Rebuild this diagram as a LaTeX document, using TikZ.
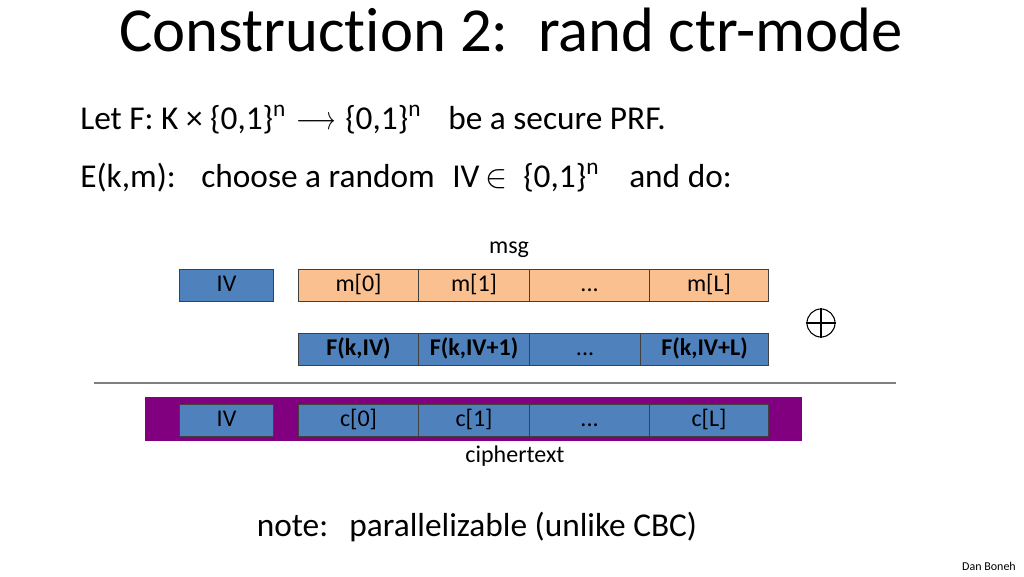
\documentclass[tikz,border=0pt]{standalone}
\usepackage{fontspec}
\setmainfont[Ligatures=NoCommon]{Carlito}
\definecolor{boxblue}{HTML}{4F81BD}
\definecolor{boxorange}{HTML}{FAC090}
\definecolor{ctpurple}{HTML}{800080}
\definecolor{rulegray}{HTML}{7F7F7F}
\begin{document}
\begin{tikzpicture}[x=0.75pt,y=-0.75pt,
  cell/.style={draw=black!75,line width=0.8pt,inner sep=0pt,anchor=north west,font=\fontsize{18}{20}\selectfont,text height=13pt,text depth=4pt},
  bluecell/.style={cell,fill=boxblue},
  orangecell/.style={cell,fill=boxorange},
  boldcell/.style={bluecell,font=\fontsize{18}{20}\selectfont\bfseries},
  bodytext/.style={anchor=base west,inner sep=0pt,font=\fontsize{25}{28}\selectfont},
  label/.style={inner sep=0pt,font=\fontsize{18}{20}\selectfont}]
\useasboundingbox (0,0) rectangle (1024,576);
% title
\node[inner sep=0pt,font=\fontsize{47}{52}\selectfont] (title) at (511,30) {Construction 2:\, rand ctr-mode};
% line 1
\node[bodytext] (l1a) at (80,129) {Let F: K × \{0,1\}\textsuperscript{n}};
\node[bodytext,anchor=base] (l1arrow) at (316,129) {\scalebox{0.74}[1]{$\longrightarrow$}};
\node[bodytext] (l1b) at (345,129) {\{0,1\}\textsuperscript{n}};
\node[bodytext] (l1c) at (448,129) {be a secure PRF.};
% line 2
\node[bodytext] (l2a) at (80,187) {E(k,m):};
\node[bodytext] (l2b) at (201,187) {choose a random};
\node[bodytext] (l2c) at (452,187) {IV};
\node[bodytext,anchor=base] (l2in) at (497,187) {$\in$};
\node[bodytext] (l2d) at (523,187) {\{0,1\}\textsuperscript{n}};
\node[bodytext] (l2e) at (629,187) {and do:};
% msg row
\node[label] (msg) at (509,250) {msg};
\node[bluecell,minimum width=94pt*0.75,minimum height=32pt*0.75] (iv1) at (179,269) {IV};
\node[orangecell,minimum width=120pt*0.75,minimum height=32pt*0.75] (m0) at (298,269) {m[0]};
\node[orangecell,minimum width=111pt*0.75,minimum height=32pt*0.75] (m1) at (418,269) {m[1]};
\node[orangecell,minimum width=120pt*0.75,minimum height=32pt*0.75] (mdots) at (529,269) {...};
\node[orangecell,minimum width=119pt*0.75,minimum height=32pt*0.75] (mL) at (649,269) {m[L]};
% xor
\node[draw,circle,line width=0.8pt,minimum size=28pt*0.75,inner sep=0pt] (xor) at (821,323) {};
\draw[line width=0.8pt] (xor.north) -- (xor.south) (xor.west) -- (xor.east);
% pad row
\node[boldcell,minimum width=120pt*0.75,minimum height=32pt*0.75] (f0) at (298,333) {F(k,IV)};
\node[boldcell,minimum width=111pt*0.75,minimum height=32pt*0.75] (f1) at (418,333) {F(k,IV+1)};
\node[bluecell,minimum width=111pt*0.75,minimum height=32pt*0.75] (fdots) at (529,333) {...};
\node[boldcell,minimum width=128pt*0.75,minimum height=32pt*0.75] (fL) at (640,333) {F(k,IV+L)};
% rule
\coordinate (ruleL) at (94,383);
\coordinate (ruleR) at (896,383);
\draw[rulegray,line width=1.2pt] (ruleL) -- (ruleR);
% ciphertext row
\node[fill=ctpurple,draw=none,anchor=north west,minimum width=657pt*0.75,minimum height=44pt*0.75,inner sep=0pt] (band) at (145,397) {};
\node[bluecell,minimum width=94pt*0.75,minimum height=32pt*0.75] (iv2) at (179,404) {IV};
\node[bluecell,minimum width=120pt*0.75,minimum height=32pt*0.75] (c0) at (298,404) {c[0]};
\node[bluecell,minimum width=111pt*0.75,minimum height=32pt*0.75] (c1) at (418,404) {c[1]};
\node[bluecell,minimum width=120pt*0.75,minimum height=32pt*0.75] (cdots) at (529,404) {...};
\node[bluecell,minimum width=119pt*0.75,minimum height=32pt*0.75] (cL) at (649,404) {c[L]};
\node[label] (ctext) at (515,456) {ciphertext};
% note
\node[inner sep=0pt,font=\fontsize{25}{28}\selectfont] (note) at (477,527) {note:\,\, parallelizable (unlike CBC)};
\node[inner sep=0pt,font=\fontsize{9}{10}\selectfont] (author) at (989,566) {Dan Boneh};
\end{tikzpicture}
\end{document}
